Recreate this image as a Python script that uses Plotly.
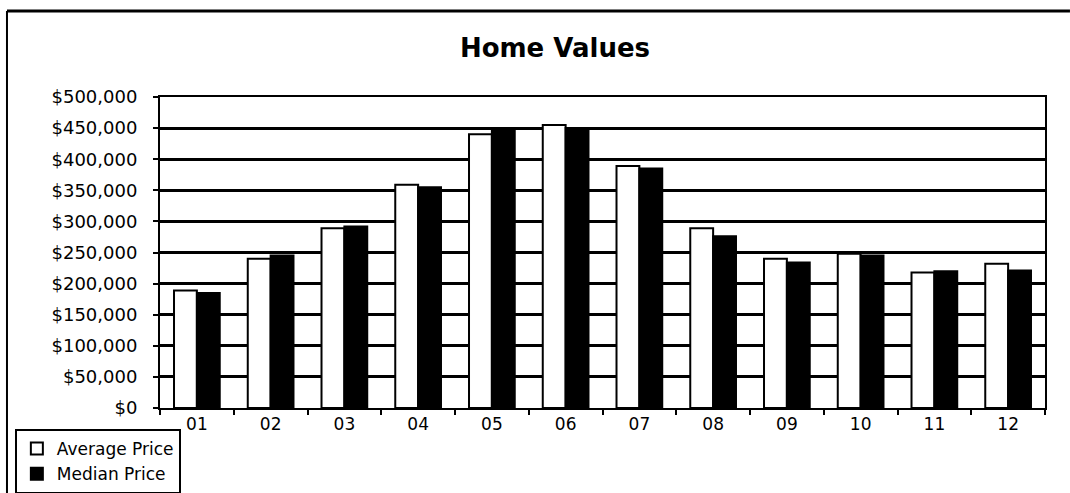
import plotly.graph_objects as go

categories = ["01", "02", "03", "04", "05", "06", "07", "08", "09", "10", "11", "12"]
average_price = [189000, 240000, 289000, 359000, 440000, 455000, 389000, 289000, 240000, 248000, 218000, 232000]
median_price = [185000, 245000, 292000, 355000, 450000, 450000, 385000, 276000, 234000, 245000, 220000, 221000]
y_ticks = [0, 50000, 100000, 150000, 200000, 250000, 300000, 350000, 400000, 450000, 500000]

FONT = "DejaVu Sans"

fig = go.Figure()
fig.add_trace(go.Bar(
    name="Average Price", x=categories, y=average_price,
    marker=dict(color="white", line=dict(color="black", width=2)),
))
fig.add_trace(go.Bar(
    name="Median Price", x=categories, y=median_price,
    marker=dict(color="black", line=dict(color="black", width=2)),
))

fig.update_layout(
    width=1070, height=493,
    margin=dict(l=160, r=25, t=97, b=85, autoexpand=False),
    paper_bgcolor="white", plot_bgcolor="white",
    barmode="group", bargap=0.38, bargroupgap=0,
    font=dict(family=FONT, color="black", size=17),
    title=dict(text="<b>Home Values</b>", x=0.5187, xanchor="center",
               y=0.9026, yanchor="middle", yref="container",
               font=dict(family=FONT, size=26, color="black")),
    showlegend=True,
    legend=dict(x=-0.164, y=-0.0675, xanchor="left", yanchor="top",
                bgcolor="white", bordercolor="black", borderwidth=2,
                font=dict(family=FONT, size=17, color="black"),
                tracegroupgap=2, itemsizing="constant"),
    xaxis=dict(showline=True, linecolor="black", linewidth=2, mirror=True,
               ticks="outside", tickson="boundaries", ticklen=5, tickwidth=2,
               tickcolor="black", showgrid=False, ticklabelstandoff=0,
               tickfont=dict(family=FONT, size=17, color="black")),
    yaxis=dict(range=[0, 500000], tickvals=y_ticks, tickformat="$,.0f",
               showline=True, linecolor="black", linewidth=2, mirror=True,
               ticks="outside", ticklen=5, tickwidth=2, tickcolor="black",
               showgrid=True, gridcolor="black", gridwidth=2.5,
               zeroline=False, ticklabelstandoff=12,
               tickfont=dict(family=FONT, size=18, color="black")),
    shapes=[
        dict(type="line", xref="paper", yref="paper", x0=-0.1729, x1=1.0282,
             y0=1.2765, y1=1.2765, line=dict(color="black", width=3)),
        dict(type="line", xref="paper", yref="paper", x0=-0.1729, x1=-0.1729,
             y0=1.2765, y1=-0.2733, line=dict(color="black", width=2)),
    ],
)

fig.write_html("out.html")
